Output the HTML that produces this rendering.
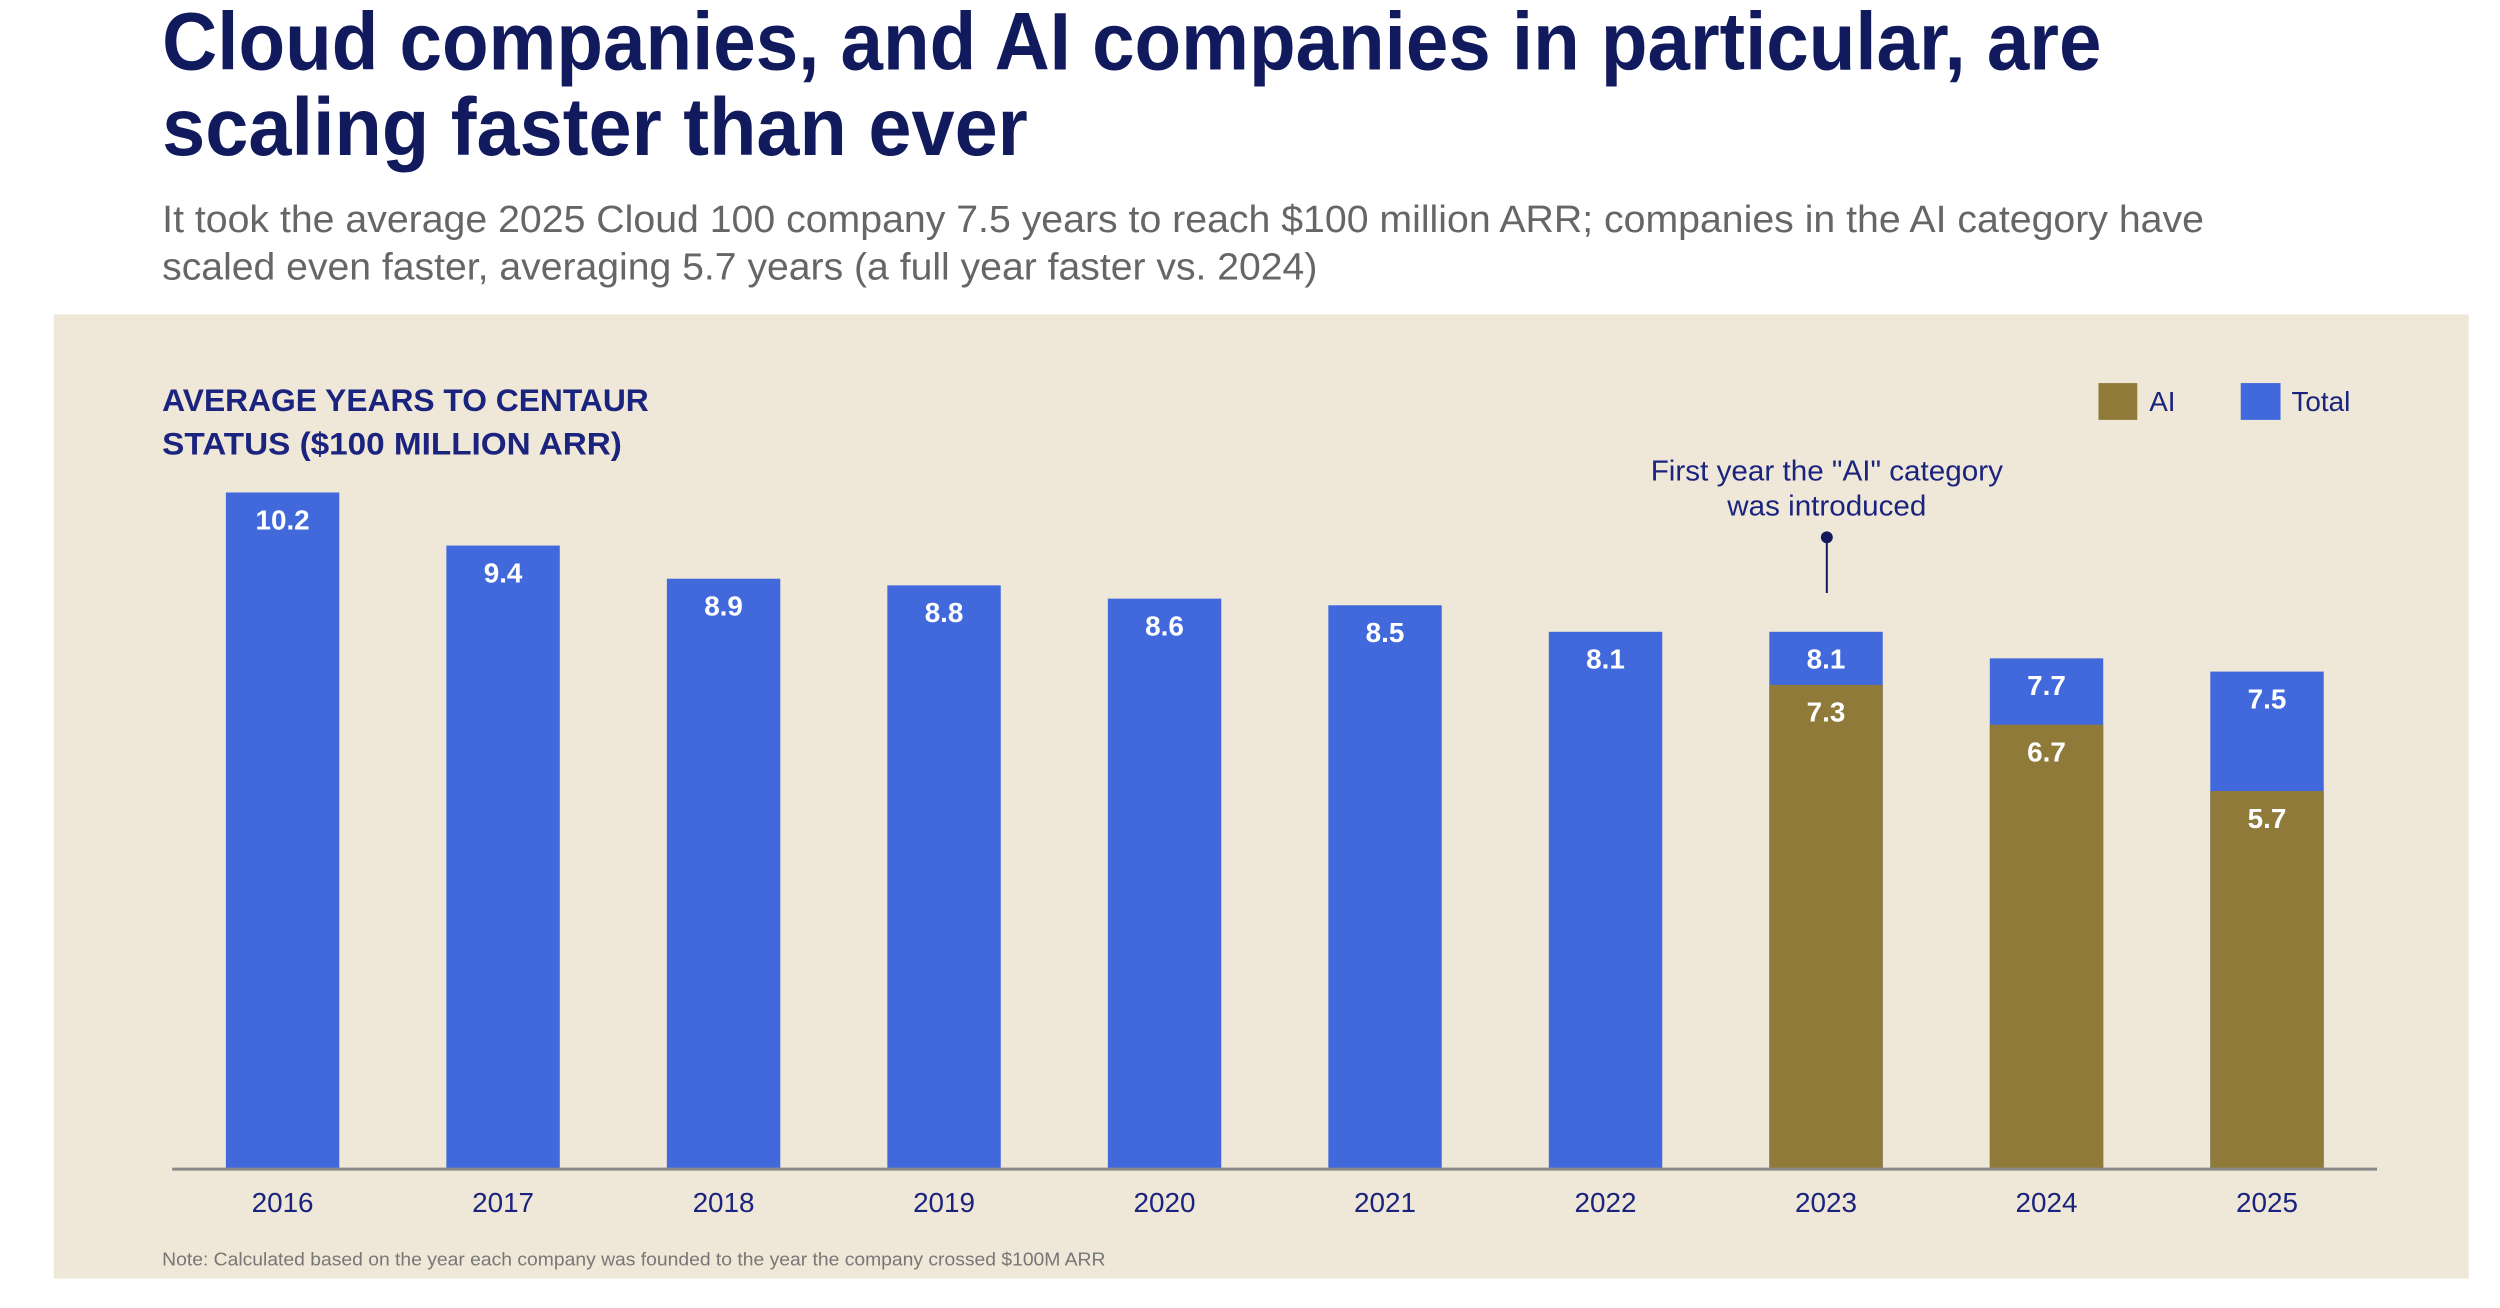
<!DOCTYPE html>
<html><head><meta charset="utf-8"><style>
html,body{margin:0;padding:0;background:#fff;}
svg{display:block;font-family:"Liberation Sans",sans-serif;}
</style></head><body>
<svg id="chart" width="2500" height="1308" viewBox="0 0 2500 1308">
<g transform="scale(0.995)">
<text x="163" y="70" font-size="82" font-weight="bold" fill="#121a5e" textLength="1949" lengthAdjust="spacingAndGlyphs">Cloud companies, and AI companies in particular, are</text>
<text x="163" y="156" font-size="82" font-weight="bold" fill="#121a5e" textLength="870" lengthAdjust="spacingAndGlyphs">scaling faster than ever</text>
<text x="163" y="233" font-size="38" fill="#666" textLength="2052" lengthAdjust="spacingAndGlyphs">It took the average 2025 Cloud 100 company 7.5 years to reach $100 million ARR; companies in the AI category have</text>
<text x="163" y="281" font-size="38" fill="#666" textLength="1161" lengthAdjust="spacingAndGlyphs">scaled even faster, averaging 5.7 years (a full year faster vs. 2024)</text>
<rect x="54" y="316" width="2427" height="969" fill="#efe7d7"/>
<text x="163" y="413" font-size="32" font-weight="bold" fill="#1a237e" textLength="489" lengthAdjust="spacingAndGlyphs">AVERAGE YEARS TO CENTAUR</text>
<text x="163" y="457" font-size="32" font-weight="bold" fill="#1a237e" textLength="462" lengthAdjust="spacingAndGlyphs">STATUS ($100 MILLION ARR)</text>
<rect x="2109" y="385" width="39" height="37" fill="#8f7a3a"/>
<text x="2160" y="413" font-size="28" fill="#1a237e">AI</text>
<rect x="2252" y="385" width="40" height="37" fill="#4169dc"/>
<text x="2303" y="413" font-size="28" fill="#1a237e">Total</text>
<text x="1836" y="483" font-size="29" fill="#1a237e" text-anchor="middle" textLength="354" lengthAdjust="spacingAndGlyphs">First year the "AI" category</text>
<text x="1836" y="518" font-size="29" fill="#1a237e" text-anchor="middle" textLength="200" lengthAdjust="spacingAndGlyphs">was introduced</text>
<circle cx="1836" cy="540" r="6" fill="#121a5e"/>
<line x1="1836" y1="540" x2="1836" y2="596" stroke="#121a5e" stroke-width="2"/>
<g id="bars"></g>
<line x1="173" y1="1175" x2="2389" y2="1175" stroke="#8a8a8a" stroke-width="3"/>
<text x="163" y="1272" font-size="19" fill="#777" textLength="948" lengthAdjust="spacingAndGlyphs">Note: Calculated based on the year each company was founded to the year the company crossed $100M ARR</text>
</g>
</svg>
<script>
const years = ["2016","2017","2018","2019","2020","2021","2022","2023","2024","2025"];
const totalValues = [10.2, 9.4, 8.9, 8.8, 8.6, 8.5, 8.1, 8.1, 7.7, 7.5];
const aiValues = [null, null, null, null, null, null, null, 7.3, 6.7, 5.7];

const NS = "http://www.w3.org/2000/svg";
const baseY = 1175, pxPerUnit = 66.67, firstX = 284, step = 221.6, barW = 114;
const yScale = v => baseY - v * pxPerUnit;
const xScale = i => firstX + i * step;
const g = document.getElementById("bars");
function mk(tag, attrs) { const e = document.createElementNS(NS, tag); for (const k in attrs) e.setAttribute(k, attrs[k]); return e; }

years.forEach((yr, i) => {
  const cx = xScale(i);
  const t = totalValues[i];
  const r = mk("rect", {x: cx - barW/2, y: yScale(t), width: barW, height: baseY - yScale(t), fill: "#4169dc"});
  
  
  g.appendChild(r);
  const tl = mk("text", {x: cx, y: yScale(t) + 37, "font-size": 28, "font-weight": "bold", fill: "#fff", "text-anchor": "middle"});
  tl.textContent = t.toFixed(1);
  
  
  g.appendChild(tl);
  const a = aiValues[i];
  if (a != null) {
    const ar = mk("rect", {x: cx - barW/2, y: yScale(a), width: barW, height: baseY - yScale(a), fill: "#8f7a3a"});
    
    
    g.appendChild(ar);
    const al = mk("text", {x: cx, y: yScale(a) + 37, "font-size": 28, "font-weight": "bold", fill: "#fff", "text-anchor": "middle"});
    al.textContent = a.toFixed(1);
    
    
    g.appendChild(al);
  }
  const xl = mk("text", {x: cx, y: 1218, "font-size": 28, fill: "#1a237e", "text-anchor": "middle"});
  xl.textContent = yr;
  
  
  g.appendChild(xl);
});
</script>
</body></html>
